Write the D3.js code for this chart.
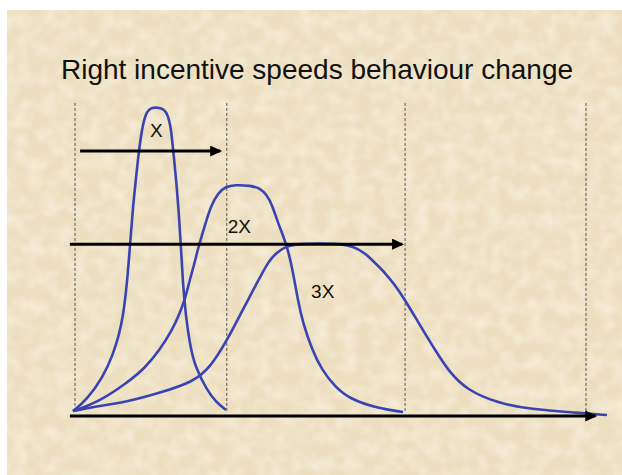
<!DOCTYPE html>
<html>
<head>
<meta charset="utf-8">
<script src="https://cdn.jsdelivr.net/npm/d3@7"></script>
<style>
  html, body { margin: 0; padding: 0; background: #fff; }
  svg { display: block; }
</style>
</head>
<body>
<div id="grafico"></div>
<script>
// Area de dibujo
const WIDTH = 622;
const HEIGHT = 475;

// Titulo de la diapositiva
var titulo = "Right incentive speeds behaviour change";

// Curvas de adopcion: pares [tiempo, porcentaje del pico]
var curveX = [[-0.4,0.3],[2.3,4.0],[5.5,11.6],[7.4,18.8],[8.6,25.4],[9.4,31.4],[10.2,42.6],
  [10.8,55.8],[11.3,66.7],[11.7,73.3],[12.5,86.5],[13.3,95.4],[14.1,99.5],[15.1,100.5],[16.2,100.5],
  [17.4,100],[18.2,98.0],[18.8,93.5],[19.2,86.5],[20.0,73.3],[20.7,55.8],[21.1,42.6],[21.7,31.4],
  [22.5,22.1],[23.5,14.9],[25.8,7.3],[27.6,3.3],[29.5,0.7]];

var curve2X = [[-0.4,0.3],[4.3,3.0],[10.2,9.6],[13.7,14.5],[16.6,20.5],[19.0,27.1],[20.2,31.4],
  [21.5,37.0],[22.3,42.6],[23.3,48.5],[24.0,53.5],[24.8,58.0],[25.6,62.7],[26.7,68.3],[28.0,72.3],
  [29.4,74.3],[31.3,75.0],[34.3,74.7],[36.2,73.9],[37.6,71.5],[38.6,68.3],[39.7,62.4],[41.5,55.1],
  [42.7,45.9],[43.6,37.0],[44.6,29.4],[46.4,20.5],[48.3,13.9],[50.9,8.3],[53.8,4.3],[59.1,1.3],[64.2,0]];

var curve3X = [[-0.4,0.3],[3.5,1.7],[10.2,3.3],[16.6,6.3],[23.1,9.9],[26.4,14.5],[29.8,23.8],
  [32.3,32.0],[34.3,38.4],[35.4,42.0],[36.4,45.0],[37.8,49.5],[39.5,52.8],[41.5,54.8],[43.6,55.5],
  [48.0,55.7],[51.9,55.5],[54.2,54.8],[56.8,52.5],[58.7,49.2],[60.7,45.9],[62.6,41.9],[64.2,38.0],
  [66.9,30.4],[70.8,19.5],[73.4,12.9],[76.7,7.3],[82.6,3.0],[89.0,0.9],[98.8,-0.3],[104.1,-1.0]];

// Etiquetas de cada curva y donde van
var etiquetas = ["X", "2X", "3X"];
var etiquetaT = [15.9, 29.9, 46.2];
var etiquetaV = [90.8, 59.1, 37.6];
var etiquetaAnchor = ["middle", "start", "start"];

// Lineas discontinuas verticales (plazos)
var plazos = [0, 29.7, 64.6, 100];
var plazoTop = 102;

// Flechas: inicio, punta y altura
var flechaInicio = [1.0, -1.0, -1.0];
var flechaFin = [28.8, 64.4, 102.2];
var flechaNivel = [86.1, 55.4, -1.3];

var xScale = d3.scaleLinear().domain([0, 100]).range([75, 586]);
var yScale = d3.scaleLinear().domain([0, 100]).range([412, 109]);

var svg = d3.select("#grafico")
  .append("svg")
  .attr("width", WIDTH)
  .attr("height", HEIGHT);

var defs = svg.append("defs");

// textura de pergamino, mas fina y suave
var filtro = defs.append("filter")
  .attr("id", "papel")
  .attr("x", 0).attr("y", 0).attr("width", "100%").attr("height", "100%");
filtro.append("feTurbulence")
  .attr("type", "fractalNoise")
  .attr("baseFrequency", "0.07")
  .attr("numOctaves", 2)
  .attr("seed", 11);
filtro.append("feColorMatrix")
  .attr("type", "matrix")
  .attr("values", "0 0 0 0 0.99  0 0 0 0 0.96  0 0 0 0 0.89  0.9 0 0 0 -0.3");

defs.append("marker")
  .attr("id", "punta")
  .attr("markerUnits", "userSpaceOnUse")
  .attr("markerWidth", 13)
  .attr("markerHeight", 12)
  .attr("refX", 10)
  .attr("refY", 5.5)
  .attr("orient", "auto")
  .append("path")
  .attr("d", "M0,0 L12,5.5 L0,11 Z")
  .attr("fill", "#000");

// fondo
svg.append("rect")
  .attr("x", 7).attr("y", 10)
  .attr("width", WIDTH - 7).attr("height", HEIGHT - 10)
  .attr("fill", "#ecdebe");
svg.append("rect")
  .attr("x", 7).attr("y", 10)
  .attr("width", WIDTH - 7).attr("height", HEIGHT - 10)
  .attr("filter", "url(#papel)");

svg.append("text")
  .attr("x", 317)
  .attr("y", 79)
  .attr("text-anchor", "middle")
  .style("font-family", "'Liberation Sans', Arial, sans-serif")
  .style("font-size", "28px")
  .attr("fill", "#111")
  .text(titulo);

// lineas discontinuas
svg.selectAll(".plazo")
  .data(plazos)
  .enter()
  .append("line")
  .attr("class", "plazo")
  .attr("x1", d => xScale(d))
  .attr("x2", d => xScale(d))
  .attr("y1", yScale(plazoTop))
  .attr("y2", yScale(0))
  .attr("stroke", "#555")
  .attr("stroke-width", 1)
  .attr("stroke-dasharray", "3,2");

// curvas suavizadas
var linea = d3.line()
  .x(d => xScale(d[0]))
  .y(d => yScale(d[1]))
  .curve(d3.curveBasis);

svg.selectAll(".curva")
  .data([curveX, curve2X, curve3X])
  .enter()
  .append("path")
  .attr("class", "curva")
  .attr("d", linea)
  .attr("fill", "none")
  .attr("stroke", "#3b43b3")
  .attr("stroke-width", 2.6);

// flechas
svg.selectAll(".flecha")
  .data(flechaFin)
  .enter()
  .append("line")
  .attr("class", "flecha")
  .attr("x1", (d, i) => xScale(flechaInicio[i]))
  .attr("x2", d => xScale(d) - 2)
  .attr("y1", (d, i) => yScale(flechaNivel[i]))
  .attr("y2", (d, i) => yScale(flechaNivel[i]))
  .attr("stroke", "#000")
  .attr("stroke-width", 3)
  .attr("marker-end", "url(#punta)");

svg.selectAll(".etiqueta")
  .data(etiquetas)
  .enter()
  .append("text")
  .attr("class", "etiqueta")
  .attr("x", (d, i) => xScale(etiquetaT[i]))
  .attr("y", (d, i) => yScale(etiquetaV[i]))
  .attr("text-anchor", (d, i) => etiquetaAnchor[i])
  .style("font-family", "'Liberation Sans', Arial, sans-serif")
  .style("font-size", "19px")
  .attr("fill", "#111")
  .text(d => d);
</script>
</body>
</html>
